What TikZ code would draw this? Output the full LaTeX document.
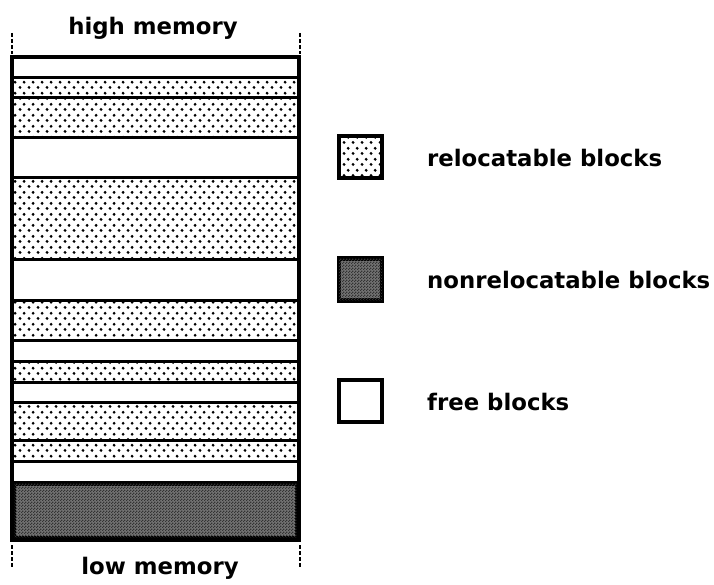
\documentclass[tikz,border=0pt]{standalone}
\usepackage{fontspec}
\setmainfont{DejaVu Sans}
\usetikzlibrary{patterns.meta}
\tikzdeclarepattern{name=reldots, type=uncolored,
  bounding box={(0pt,0pt) and (9pt,11pt)}, tile size={(9pt,11pt)},
  code={\fill (2.25pt,2.75pt) circle (1.7pt); \fill (6.75pt,8.25pt) circle (1.7pt);}}
\tikzdeclarepattern{name=checker, type=uncolored,
  bounding box={(0pt,0pt) and (3pt,3pt)}, tile size={(3pt,3pt)},
  code={\fill (0pt,0pt) rectangle (1.5pt,1.5pt); \fill (1.5pt,1.5pt) rectangle (3pt,3pt);}}
\tikzset{
  band/.style={draw=black, line width=3pt},
  freeband/.style={band, fill=white},
  relband/.style={band, fill=white, pattern={reldots}, pattern color=black},
  nonband/.style={band, line width=4.5pt, fill=black!55, postaction={pattern={checker}, pattern color=black!80}},
  tick/.style={line width=2.6pt, dash pattern=on 4pt off 2pt},
  lbl/.style={font=\fontsize{22.8}{26}\selectfont\bfseries, inner sep=0pt},
  legbox/.style={draw=black, line width=3.4pt, minimum width=43pt, minimum height=42pt, inner sep=0pt},
}
\begin{document}
\begin{tikzpicture}[x=1pt,y=-1pt]
\useasboundingbox (0,0) rectangle (714,585);
% memory bands
\path[freeband] (12,57) rectangle (299,78);
\path[relband] (12,78) rectangle (299,98);
\path[relband] (12,98) rectangle (299,138);
\path[freeband] (12,138) rectangle (299,178);
\path[relband] (12,178) rectangle (299,259);
\path[freeband] (12,259) rectangle (299,300);
\path[relband] (12,300) rectangle (299,340);
\path[freeband] (12,340) rectangle (299,361);
\path[relband] (12,361) rectangle (299,382);
\path[freeband] (12,382) rectangle (299,402);
\path[relband] (12,402) rectangle (299,440);
\path[relband] (12,440) rectangle (299,461);
\path[freeband] (12,461) rectangle (299,482);
\path[nonband] (13.5,483.5) rectangle (297.5,538.5);
\draw[line width=3.6pt] (12,57) rectangle (299,540);
% ticks
\coordinate (tl1) at (12,33); \coordinate (tl2) at (12,54);
\coordinate (tr1) at (300,33); \coordinate (tr2) at (300,54);
\coordinate (bl1) at (12,545); \coordinate (bl2) at (12,567);
\coordinate (br1) at (300,545); \coordinate (br2) at (300,567);
\draw[tick] (tl1) -- (tl2);
\draw[tick] (tr1) -- (tr2);
\draw[tick] (bl1) -- (bl2);
\draw[tick] (br1) -- (br2);
% labels
\node[lbl, anchor=base] (high) at (153,35) {high memory};
\node[lbl, anchor=base] (low) at (160,574) {low memory};
% legend
\node[legbox, fill=white, pattern={reldots}, pattern color=black] (lrel) at (360.5,157) {};
\node[legbox, line width=4.5pt, fill=black!55, postaction={pattern={checker}, pattern color=black!80}] (lnon) at (360.5,279.5) {};
\node[legbox, fill=white] (lfree) at (360.5,401) {};
\node[lbl, anchor=base west] (trel) at (427,167) {relocatable blocks};
\node[lbl, anchor=base west] (tnon) at (427,288) {nonrelocatable blocks};
\node[lbl, anchor=base west] (tfree) at (427,410) {free blocks};
\end{tikzpicture}
\end{document}
